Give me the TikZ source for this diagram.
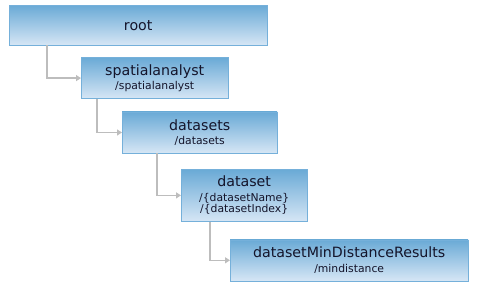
\documentclass[tikz,border=0pt]{standalone}
\usepackage{fontspec}
\setmainfont{DejaVu Sans}
\usetikzlibrary{arrows.meta,positioning}
\definecolor{boxtop}{HTML}{6AAAD6}
\definecolor{boxbot}{HTML}{D6E6F5}
\definecolor{boxline}{HTML}{75B0DA}
\definecolor{linkgray}{HTML}{BDBDBD}
\definecolor{restext}{HTML}{14142A}
\tikzstyle{res}=[rectangle,draw=boxline,top color=boxtop,bottom color=boxbot,align=center,inner sep=0pt,anchor=north west,text=restext,font=\fontsize{10.8}{11.5}\selectfont]
\tikzstyle{link}=[draw=linkgray,line width=1.5pt,-{Triangle[length=5pt,width=6pt]}]
\newcommand{\ttl}[1]{{\fontsize{14.2}{16}\selectfont #1}}

\begin{document}
\begin{tikzpicture}[x=1pt,y=1pt]
\useasboundingbox (0,0) rectangle (480,-288);
\node (root) [res,minimum width=258pt,minimum height=40pt] at (9,-5) {\ttl{root}};
\node (sa) [res,minimum width=147pt,minimum height=41pt,below right=12pt and 72pt of root.south west] {\ttl{spatialanalyst}\\[3pt]/spatialanalyst};
\node (dsets) [res,minimum width=155pt,minimum height=41pt,below right=13pt and 41pt of sa.south west] {\ttl{datasets}\\[3pt]/datasets};
\node (dset) [res,minimum width=126pt,minimum height=52pt,below right=16pt and 59pt of dsets.south west] {\ttl{dataset}\\[3pt]/\{datasetName\}\\/\{datasetIndex\}};
\node (mind) [res,minimum width=238pt,minimum height=41pt,below right=18pt and 49pt of dset.south west] {\ttl{datasetMinDistanceResults}\\[3pt]/mindistance};
\draw [link] ([xshift=38pt]root.south west) |- (sa.west);
\draw [link] ([xshift=16pt]sa.south west) |- (dsets.west);
\draw [link] ([xshift=35pt]dsets.south west) |- (dset.west);
\draw [link] ([xshift=29pt]dset.south west) |- (mind.west);
\end{tikzpicture}
\end{document}
